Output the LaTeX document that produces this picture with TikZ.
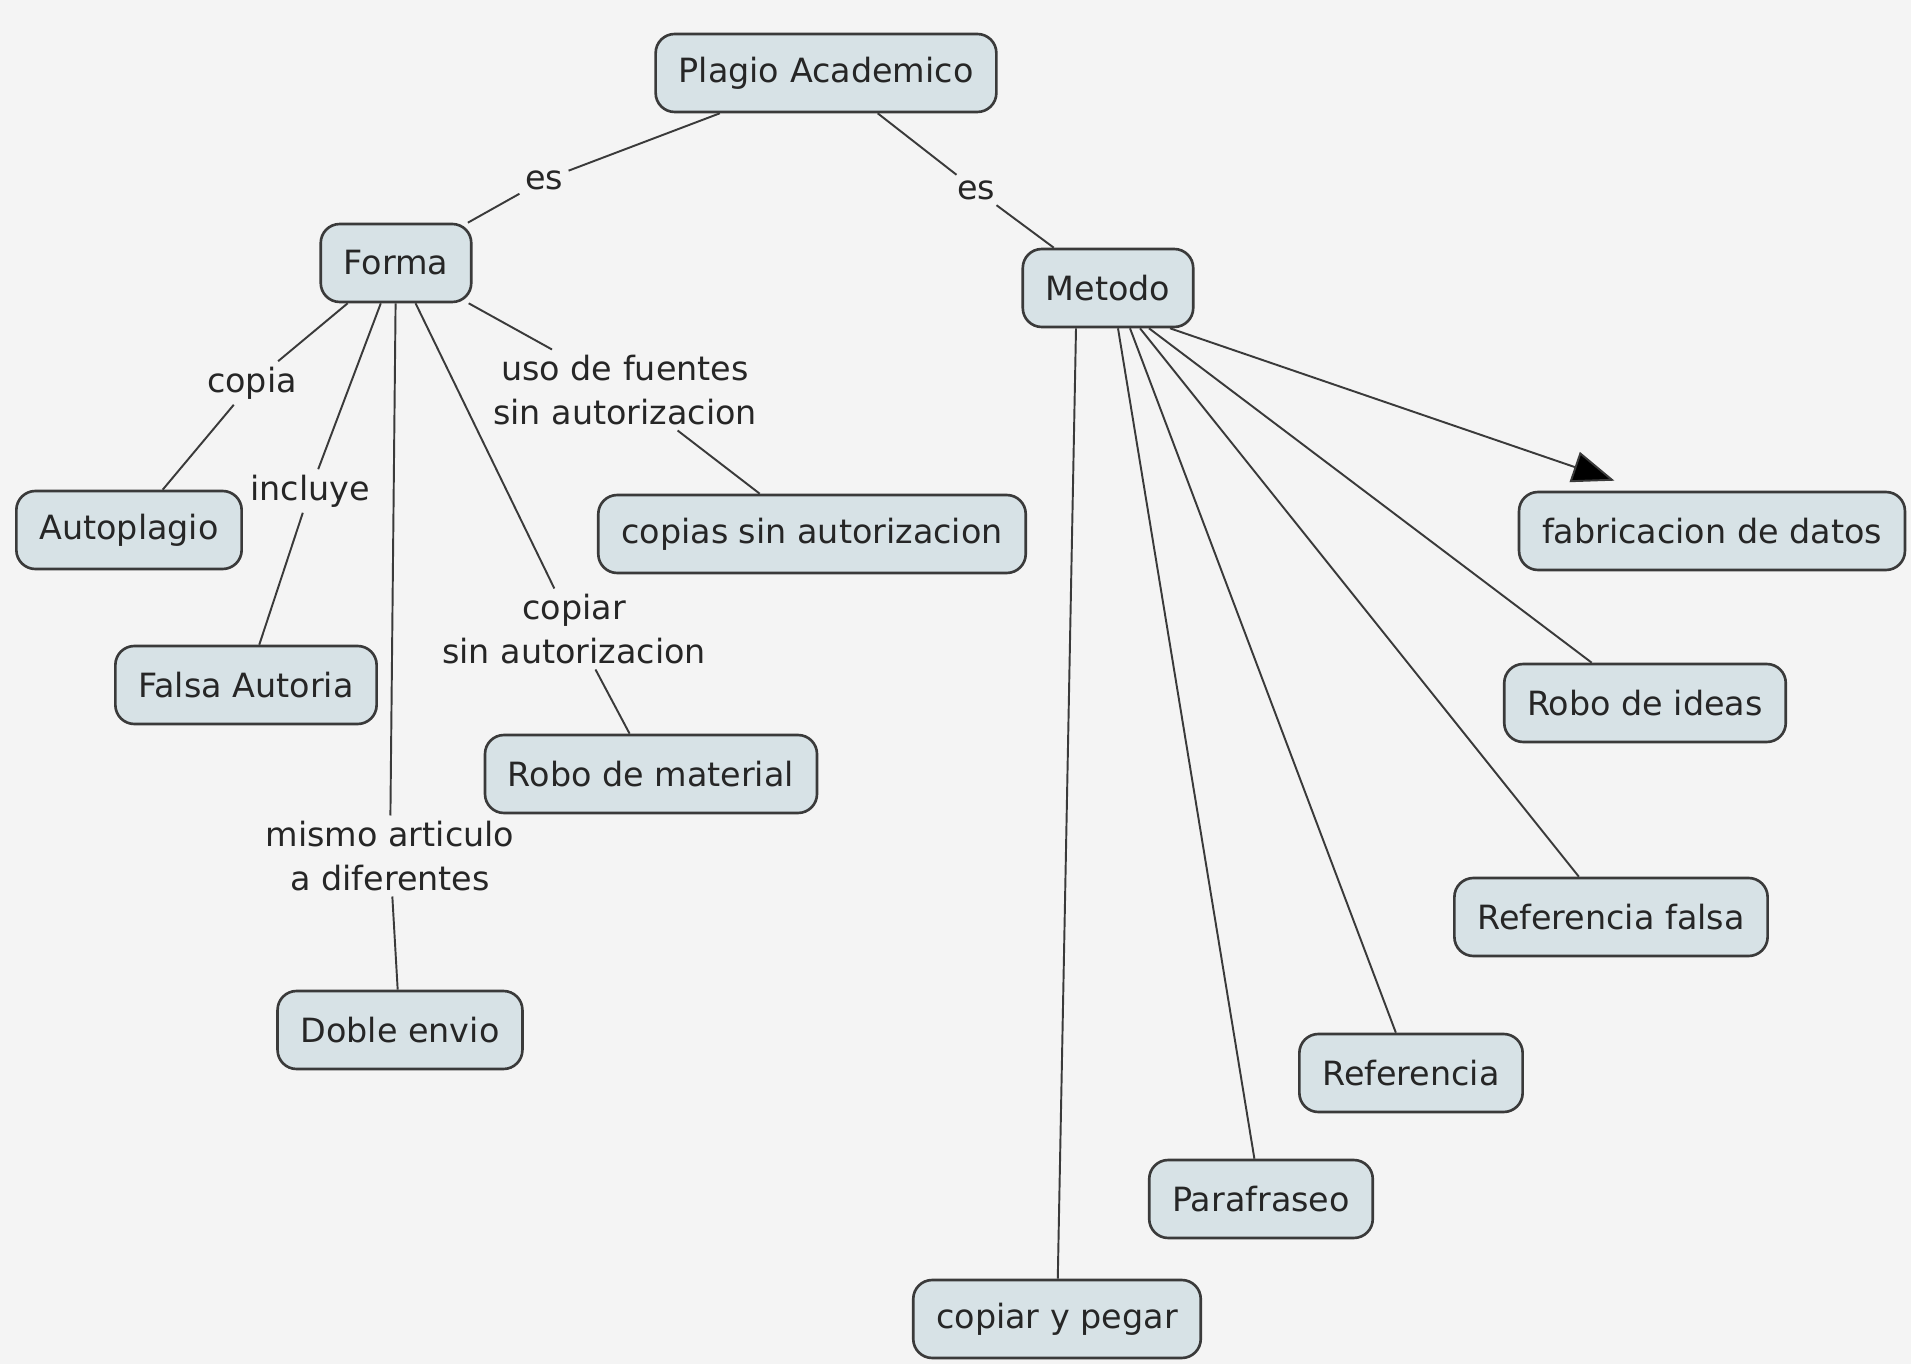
\documentclass[tikz,border=0pt]{standalone}
\usepackage{fontspec}
\setmainfont{DejaVu Sans}
\usetikzlibrary{arrows.meta}
\definecolor{bgcol}{HTML}{F4F4F4}
\definecolor{boxfill}{HTML}{D7E2E6}
\definecolor{boxline}{HTML}{3A3A3A}
\definecolor{txtcol}{HTML}{262626}
\tikzset{
	concept/.style={draw=boxline, fill=boxfill, line width=1.5pt, rounded corners=0.38cm,
		minimum height=1.56cm, inner xsep=0.46cm, text=txtcol, font=\fontsize{19}{25}\selectfont},
	linkword/.style={text=txtcol, align=center, inner sep=3pt, font=\fontsize{19}{25}\selectfont},
	conn/.style={draw=boxline, line width=1.1pt}
}
\begin{document}
\begin{tikzpicture}[x=0.02cm, y=-0.02cm]
			\fill [bgcol] (0,0) rectangle (1911,1364);
			\node [concept] (plagio) at (826,73) {Plagio Academico};
			\node [concept] (forma) at (396,263) {Forma};
			\node [concept] (metodo) at (1108,288) {Metodo};
			\node [concept] (autoplagio) at (129,530) {Autoplagio};
			\node [concept] (copias) at (812,534) {copias sin autorizacion};
			\node [concept] (fabricacion) at (1712,531) {fabricacion de datos};
			\node [concept] (falsa) at (246,685) {Falsa Autoria};
			\node [concept] (robomat) at (651,774) {Robo de material};
			\node [concept] (roboideas) at (1645,703) {Robo de ideas};
			\node [concept] (reffalsa) at (1611,917) {Referencia falsa};
			\node [concept] (doble) at (400,1030) {Doble envio};
			\node [concept] (referencia) at (1411,1073) {Referencia};
			\node [concept] (parafraseo) at (1261,1199) {Parafraseo};
			\node [concept] (copiar) at (1057,1319) {copiar y pegar};
			\node [linkword] (esA) at (544,180) {es};
			\node [linkword] (esB) at (976,190) {es};
			\node [linkword] (copia) at (252,383) {copia};
			\node [linkword] (incluye) at (310,491) {incluye};
			\node [linkword] (uso) at (625,390) {uso de fuentes\\sin autorizacion};
			\node [linkword] (copiarsin) at (574,629) {copiar\\sin autorizacion};
			\node [linkword] (mismo) at (390,856) {mismo articulo\\a diferentes};
			\draw [conn] (plagio) -- (esA) -- (forma);
			\draw [conn] (plagio) -- (esB) -- (metodo);
			\draw [conn] (forma) -- (copia) -- (autoplagio);
			\draw [conn] (forma) -- (incluye) -- (falsa);
			\draw [conn] (forma) -- (uso) -- (copias);
			\draw [conn] (forma) -- (copiarsin) -- (robomat);
			\draw [conn] (forma) -- (mismo) -- (doble);
			\draw [conn] ([xshift=-0.64cm]metodo.south) -- (copiar);
			\draw [conn] ([xshift=0.2cm]metodo.south) -- (parafraseo);
			\draw [conn] ([xshift=0.44cm]metodo.south) -- (referencia);
			\draw [conn] ([xshift=0.64cm]metodo.south) -- (reffalsa);
			\draw [conn] ([xshift=0.82cm]metodo.south) -- (roboideas);
			\draw [conn, -{Triangle[length=24pt, width=18pt, fill=black]}] ([xshift=1.24cm]metodo.south) -- ([xshift=-1.95cm, yshift=0.2cm]fabricacion.north);
		\end{tikzpicture}
\end{document}
